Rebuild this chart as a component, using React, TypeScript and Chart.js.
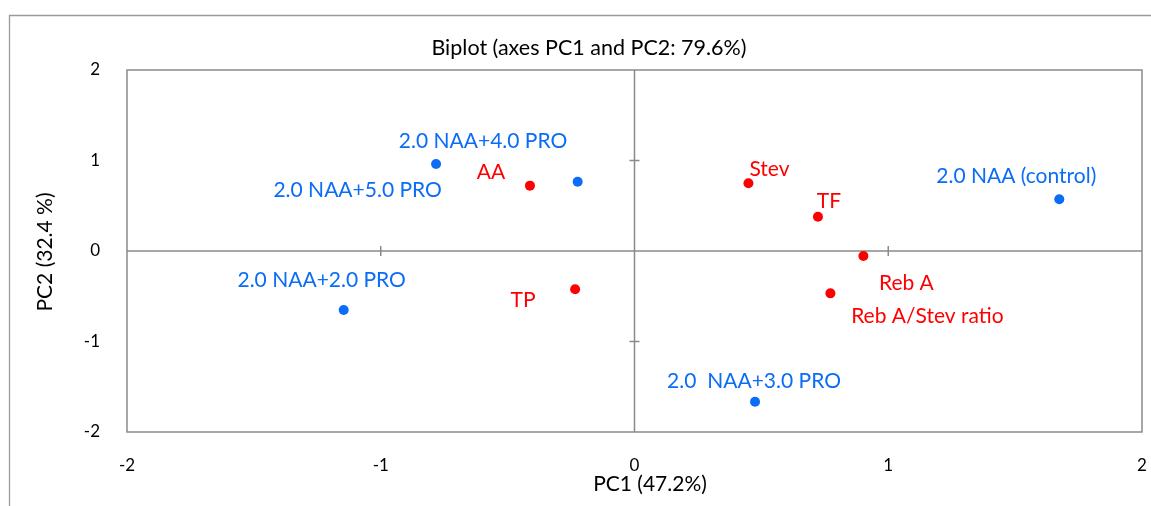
import React, { useEffect, useRef } from 'react';
import { Chart, registerables } from 'chart.js';

Chart.register(...registerables);

// ---- data ----
const treatmentNames = ['2.0 NAA (control)', '2.0 NAA+2.0 PRO', '2.0  NAA+3.0 PRO', '2.0 NAA+4.0 PRO', '2.0 NAA+5.0 PRO'];
const treatmentPC1 = [1.674, -1.146, 0.475, -0.782, -0.224];
const treatmentPC2 = [0.571, -0.652, -1.665, 0.961, 0.766];

const variableNames = ['AA', 'TP', 'Stev', 'TF', 'Reb A', 'Reb A/Stev ratio'];
const variablePC1 = [-0.412, -0.234, 0.449, 0.723, 0.902, 0.772];
const variablePC2 = [0.722, -0.423, 0.748, 0.379, -0.055, -0.468];

const axisMin = -2;
const axisMax = 2;
const axisStep = 1;

const chartTitle = 'Biplot (axes PC1 and PC2: 79.6%)';
const xTitle = 'PC1 (47.2%)';
const yTitle = 'PC2 (32.4 %)';

// ---- styles ----
const FONT = 'Lato, "Open Sans", sans-serif';
const BLUE = '#0a6cf7';
const RED = '#ff0000';
const GRAY = '#8a8a8a';
const treatmentLabelOffsets = [[-43, -23], [-22, -30], [-1, -20], [47, -23], [-220, 9]];
const variableLabelOffsets = [[-39, -13], [-52, 11], [21, -14], [11, -15], [43, 27], [97, 23]];
const labelOffsets = [treatmentLabelOffsets, variableLabelOffsets];
const labelNames = [treatmentNames, variableNames];
const labelColors = [BLUE, RED];

const biplotPlugin = {
  id: 'biplotDecor',
  beforeDraw(chart: any) {
    const { ctx, width, height } = chart;
    ctx.save();
    ctx.fillStyle = '#ffffff';
    ctx.fillRect(0, 0, width, height);
    // outer chart border (extends beyond window)
    ctx.strokeStyle = '#9a9a9a';
    ctx.lineWidth = 1.3;
    ctx.beginPath();
    ctx.moveTo(9.5, height + 5);
    ctx.lineTo(9.5, 15.5);
    ctx.lineTo(width + 5, 15.5);
    ctx.stroke();
    // titles
    ctx.fillStyle = '#000000';
    ctx.textAlign = 'center';
    ctx.textBaseline = 'middle';
    ctx.font = `21.5px ${FONT}`;
    ctx.fillText(chartTitle, 589, 48);
    ctx.font = `21px ${FONT}`;
    ctx.fillText(xTitle, 650, 484);
    ctx.translate(45, 252);
    ctx.rotate(-Math.PI / 2);
    ctx.fillText(yTitle, 0, 0);
    ctx.restore();
  },
  beforeDatasetsDraw(chart: any) {
    const { ctx, chartArea, scales } = chart;
    const xs = scales.x;
    const ys = scales.y;
    ctx.save();
    ctx.strokeStyle = GRAY;
    ctx.lineWidth = 1.5;
    ctx.strokeRect(chartArea.left, chartArea.top, chartArea.right - chartArea.left, chartArea.bottom - chartArea.top);
    const x0 = xs.getPixelForValue(0);
    const y0 = ys.getPixelForValue(0);
    ctx.beginPath();
    ctx.moveTo(x0, chartArea.top);
    ctx.lineTo(x0, chartArea.bottom);
    ctx.moveTo(chartArea.left, y0);
    ctx.lineTo(chartArea.right, y0);
    // cross tick marks on the zero axes
    for (let v = axisMin + axisStep; v < axisMax; v += axisStep) {
      const px = xs.getPixelForValue(v);
      ctx.moveTo(px, y0 - 5);
      ctx.lineTo(px, y0 + 5);
      const py = ys.getPixelForValue(v);
      ctx.moveTo(x0 - 5, py);
      ctx.lineTo(x0 + 5, py);
    }
    ctx.stroke();
    ctx.restore();
  },
  afterDatasetsDraw(chart: any) {
    const { ctx } = chart;
    ctx.save();
    ctx.font = `21px ${FONT}`;
    ctx.textAlign = 'center';
    ctx.textBaseline = 'middle';
    chart.data.datasets.forEach((ds: any, di: number) => {
      const meta = chart.getDatasetMeta(di);
      ctx.fillStyle = labelColors[di];
      meta.data.forEach((pt: any, i: number) => {
        const off = labelOffsets[di][i];
        ctx.fillText(labelNames[di][i], pt.x + off[0], pt.y + off[1]);
      });
    });
    ctx.restore();
  },
};

export default function App() {
  const ref = useRef<HTMLCanvasElement>(null);
  useEffect(() => {
    if (!ref.current) return;
    const chart = new Chart(ref.current, {
      type: 'scatter',
      data: {
        datasets: [
          {
            label: 'Treatments',
            data: treatmentPC1.map((x, i) => ({ x, y: treatmentPC2[i] })),
            backgroundColor: BLUE,
            borderWidth: 0,
            pointRadius: 5,
          },
          {
            label: 'Variables',
            data: variablePC1.map((x, i) => ({ x, y: variablePC2[i] })),
            backgroundColor: RED,
            borderWidth: 0,
            pointRadius: 5,
          },
        ],
      },
      options: {
        responsive: false,
        animation: false,
        layout: { padding: { left: 0, top: 70, right: 9, bottom: 0 } },
        plugins: {
          legend: { display: false },
          tooltip: { enabled: false },
          title: { display: false },
        },
        scales: {
          x: {
            type: 'linear',
            position: 'bottom',
            min: axisMin,
            max: axisMax,
            ticks: { stepSize: axisStep, color: '#000', font: { family: FONT, size: 17 }, padding: 15 },
            grid: { display: false },
            border: { display: false },
            afterFit: (s: any) => { s.height = 74; s.paddingLeft = 0; s.paddingRight = 0; },
          },
          y: {
            type: 'linear',
            position: 'left',
            min: axisMin,
            max: axisMax,
            ticks: { stepSize: axisStep, color: '#000', font: { family: FONT, size: 17 }, padding: 19 },
            grid: { display: false },
            border: { display: false },
            afterFit: (s: any) => { s.width = 127; s.paddingTop = 0; s.paddingBottom = 0; },
          },
        },
      },
      plugins: [biplotPlugin],
    } as any);
    return () => chart.destroy();
  }, []);
  return (
    <div style={{ position: 'fixed', left: 0, top: 0, width: 1151, height: 506, background: '#fff' }}>
      <canvas ref={ref} width={1151} height={506} style={{ display: 'block' }} />
    </div>
  );
}
